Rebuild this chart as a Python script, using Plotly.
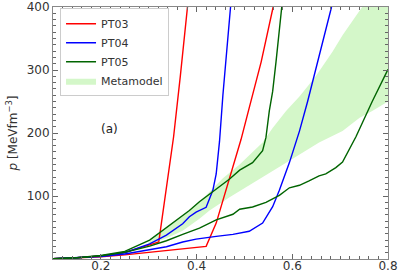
import plotly.graph_objects as go

# ---- data ----
pt03a_x = [0.10, 0.15, 0.20, 0.25, 0.30, 0.321, 0.323, 0.335, 0.347, 0.352, 0.366, 0.381]
pt03a_y = [0.5, 2.0, 5.0, 10.5, 22.0, 27.0, 38.0, 100.0, 160.0, 194.0, 290.0, 400.0]
pt03b_x = [0.10, 0.15, 0.20, 0.25, 0.30, 0.35, 0.40, 0.420, 0.441, 0.469, 0.493, 0.510, 0.535, 0.560]
pt03b_y = [0.3, 1.5, 3.5, 6.5, 10.5, 14.5, 17.5, 20.0, 57.0, 129.0, 190.0, 240.0, 313.0, 400.0]

pt04a_x = [0.10, 0.15, 0.20, 0.25, 0.302, 0.337, 0.371, 0.385, 0.399, 0.420, 0.434, 0.441, 0.448, 0.455, 0.471]
pt04a_y = [0.5, 2.0, 5.0, 10.0, 24.0, 38.0, 56.0, 67.0, 74.5, 82.0, 109.0, 135.0, 187.0, 260.0, 400.0]
pt04b_x = [0.10, 0.15, 0.20, 0.25, 0.302, 0.337, 0.371, 0.399, 0.441, 0.476, 0.510, 0.538, 0.559, 0.573, 0.594, 0.615, 0.632, 0.653, 0.682]
pt04b_y = [0.4, 1.8, 4.0, 8.0, 15.3, 19.4, 27.0, 31.5, 36.0, 39.0, 44.0, 57.0, 83.0, 109.0, 153.0, 203.0, 250.0, 313.0, 400.0]

pt05a_x = [0.10, 0.15, 0.20, 0.25, 0.302, 0.337, 0.371, 0.385, 0.406, 0.427, 0.469, 0.490, 0.517, 0.538, 0.545, 0.552, 0.559, 0.566, 0.578]
pt05a_y = [0.5, 2.0, 5.5, 12.0, 30.0, 50.0, 68.0, 77.0, 91.0, 103.0, 127.0, 141.0, 153.0, 172.0, 193.0, 235.0, 266.0, 313.0, 400.0]
pt05b_x = [0.10, 0.15, 0.20, 0.25, 0.302, 0.337, 0.371, 0.406, 0.441, 0.476, 0.490, 0.504, 0.517, 0.545, 0.573, 0.594, 0.615, 0.635, 0.656, 0.670, 0.691, 0.705, 0.733, 0.767, 0.800]
pt05b_y = [0.5, 2.0, 5.0, 10.5, 20.5, 29.0, 39.0, 49.0, 62.0, 71.0, 79.0, 81.0, 82.5, 90.0, 101.0, 113.0, 117.0, 124.0, 132.0, 135.0, 145.0, 154.0, 194.0, 250.0, 301.0]

meta_up_x = [0.30, 0.337, 0.371, 0.385, 0.42, 0.455, 0.49, 0.538, 0.559, 0.587, 0.615, 0.649, 0.684, 0.705, 0.746, 0.80]
meta_up_y = [26.0, 50.0, 68.0, 77.0, 101.0, 128.0, 150.0, 185.0, 208.0, 235.0, 258.0, 290.0, 329.0, 355.0, 400.0, 400.0]
meta_lo_x = [0.30, 0.337, 0.371, 0.406, 0.427, 0.469, 0.524, 0.594, 0.656, 0.68, 0.705, 0.74, 0.767, 0.80]
meta_lo_y = [23.0, 33.0, 45.0, 64.0, 77.0, 98.0, 124.0, 156.0, 185.0, 194.0, 203.0, 224.0, 235.0, 250.0]

x_ticks = [0.2, 0.4, 0.6, 0.8]
y_ticks = [100, 200, 300, 400]

RED, BLUE, GREEN, BAND = "#ff0000", "#0000ff", "#006400", "#d4f7c9"
FONT = "DejaVu Sans"

fig = go.Figure()
fig.add_trace(go.Scatter(x=meta_up_x + meta_lo_x[::-1], y=meta_up_y + meta_lo_y[::-1],
                         fill="toself", fillcolor=BAND, line=dict(width=0), mode="lines",
                         name="Metamodel", legendrank=4))
lw = 1.4
fig.add_trace(go.Scatter(x=pt03a_x, y=pt03a_y, mode="lines", line=dict(color=RED, width=lw),
                         name="PT03", legendrank=1))
fig.add_trace(go.Scatter(x=pt03b_x, y=pt03b_y, mode="lines", line=dict(color=RED, width=lw),
                         name="PT03", showlegend=False))
fig.add_trace(go.Scatter(x=pt04a_x, y=pt04a_y, mode="lines", line=dict(color=BLUE, width=lw),
                         name="PT04", legendrank=2))
fig.add_trace(go.Scatter(x=pt04b_x, y=pt04b_y, mode="lines", line=dict(color=BLUE, width=lw),
                         name="PT04", showlegend=False))
fig.add_trace(go.Scatter(x=pt05a_x, y=pt05a_y, mode="lines", line=dict(color=GREEN, width=lw),
                         name="PT05", legendrank=3))
fig.add_trace(go.Scatter(x=pt05b_x, y=pt05b_y, mode="lines", line=dict(color=GREEN, width=lw),
                         name="PT05", showlegend=False))

fig.add_annotation(x=0.219, y=206, text="(a)", showarrow=False,
                   font=dict(family=FONT, size=12, color="#222"))

axis_common = dict(showline=True, linecolor="#888", linewidth=1, mirror="allticks",
                   ticks="inside", ticklen=5, tickcolor="#666", tickwidth=1,
                   showgrid=False, zeroline=False, automargin=False,
                   ticklabeloverflow="allow",
                   tickfont=dict(family=FONT, size=12, color="#333"))
fig.update_xaxes(range=[0.1, 0.8], tickvals=x_ticks, ticktext=[f"{v:.1f}" for v in x_ticks],
                 ticklabelstandoff=-4,
                 minor=dict(ticks="inside", dtick=0.02, tick0=0.1, ticklen=3, tickcolor="#666", showgrid=False),
                 **axis_common)
fig.update_yaxes(range=[0, 400], tickvals=y_ticks, ticktext=[str(v) for v in y_ticks],
                 minor=dict(ticks="inside", dtick=10, tick0=0, ticklen=3, tickcolor="#666", showgrid=False),
                 title=dict(text="<i>p</i> [MeVfm<sup>−3</sup>]", standoff=6,
                            font=dict(family=FONT, size=12, color="#333")),
                 **axis_common)

fig.update_layout(width=399, height=272, margin=dict(l=53, r=11, t=7, b=13),
                  plot_bgcolor="white", paper_bgcolor="white",
                  font=dict(family=FONT, size=12, color="#333"),
                  legend=dict(x=0.021, y=0.995, xanchor="left", yanchor="top",
                              bgcolor="white", bordercolor="#ccc", borderwidth=1,
                              font=dict(family=FONT, size=11, color="#333"),
                              tracegroupgap=0, itemwidth=30))
fig.write_html("out.html", config={"displayModeBar": False},
               post_script="document.body.style.margin='0';document.body.style.overflow='hidden';")
